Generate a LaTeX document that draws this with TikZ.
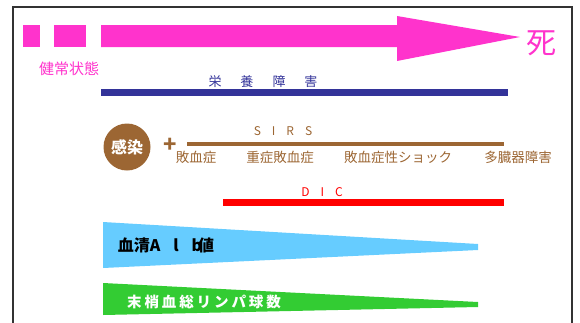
\documentclass[tikz,border=0pt]{standalone}
\usepackage{fontspec}
\setmainfont{Noto Sans CJK JP}
\newfontfamily\jp{Noto Sans CJK JP}
\definecolor{pinkc}{HTML}{FF33CC}
\definecolor{navyc}{HTML}{333399}
\definecolor{brownc}{HTML}{9C6633}
\definecolor{redc}{HTML}{FF0000}
\definecolor{bluec}{HTML}{66CCFF}
\definecolor{greenc}{HTML}{33CC33}
\newcommand{\fs}[1]{\fontsize{#1}{#1}\selectfont}
\begin{document}
\begin{tikzpicture}[x=1pt,y=-1pt,
  lbl/.style={inner sep=0pt, font=\jp\fs{13.5}, text=brownc},
  every node/.style={inner sep=0pt}]
\useasboundingbox (0,0) rectangle (580,322);
\clip (0,0) rectangle (580,322);
\draw[line width=2pt, black!80] (13,7) rectangle (572,340);
% pink squares and arrow
\fill[pinkc] (23,25) rectangle (40,47);
\fill[pinkc] (54,25) rectangle (86,47);
\fill[pinkc] (101,25) -- (397,25) -- (397,16) -- (520,37) -- (397,61) -- (397,47) -- (101,47) -- cycle;
\node[text=pinkc, font=\jp\fs{30}] (death) at (541,43) {死};
\node[text=pinkc, font=\jp\fs{15}] (healthy) at (69,69) {健常状態};
% nutrition
\node[text=navyc, font=\jp\fs{13}] (nutr) at (263,82) {栄\hspace{19pt}養\hspace{19pt}障\hspace{19pt}害};
\fill[navyc] (101,89) rectangle (508,96);
% infection
\node[circle, fill=brownc, minimum size=47pt, text=white, font=\jp\bfseries\fs{16}] (inf) at (127,147) {感染};
\node[text=brownc, font=\jp\bfseries\fs{22}] (plus) at (170,145) {+};
\node[text=brownc, font=\jp\fs{12}] (sirs) at (283,131) {S\hspace{11pt}I\hspace{11pt}R\hspace{11pt}S};
\fill[brownc] (187,142) rectangle (504,146);
\node[lbl] (l1) at (196,157) {敗血症};
\node[lbl] (l2) at (280,157) {重症敗血症};
\node[lbl] (l3) at (398,157) {敗血症性ショック};
\node[lbl] (l4) at (518,157) {多臓器障害};
% DIC
\node[text=redc, font=\jp\fs{12}] (dic) at (322,192) {D\hspace{11pt}I\hspace{11pt}C};
\fill[redc] (223,199) rectangle (504,206);
% wedges
\fill[bluec] (103,222) -- (478,244) -- (478,250) -- (103,268) -- cycle;
\node[text=black, font=\jp\bfseries\fs{16}] (alb) at (166,245) {血清A\hspace{13pt}l\hspace{13pt}b\hspace{-4pt}値};
\fill[greenc] (103,283) -- (478,302) -- (478,307) -- (103,315) -- cycle;
\node[text=white, font=\jp\bfseries\fs{14.5}\addfontfeatures{LetterSpace=20}] (lym) at (204,302) {末梢血総リンパ球数};
\end{tikzpicture}
\end{document}
